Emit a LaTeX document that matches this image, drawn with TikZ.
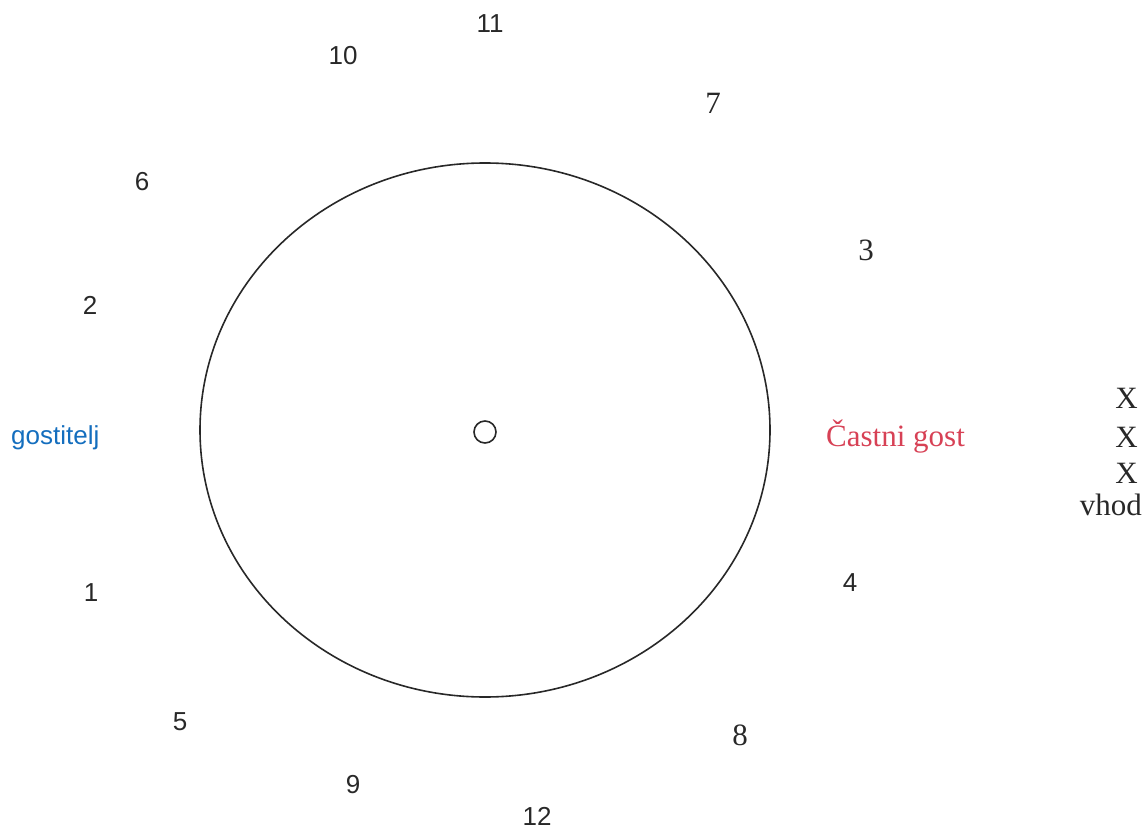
\documentclass[tikz,border=0pt]{standalone}
\usepackage{fontspec}
\setmainfont{Liberation Serif}
\setsansfont{Liberation Sans}
\definecolor{hostblue}{RGB}{20,110,190}
\definecolor{guestred}{RGB}{215,65,85}
\definecolor{ink}{RGB}{40,40,40}
\begin{document}
\begin{tikzpicture}[x=1pt,y=-1pt,
  sanslbl/.style={font=\sffamily\fontsize{26}{30}\selectfont, text=ink, inner sep=0pt},
  seriflbl/.style={font=\rmfamily\fontsize{31}{36}\selectfont, text=ink, inner sep=0pt},
  tableline/.style={draw=ink, line width=1.6pt}]
\useasboundingbox (0,0) rectangle (1148,832);
\draw[tableline] (485,430) ellipse [x radius=285, y radius=267];
\node[draw=ink, line width=1.6pt, circle, minimum size=22pt, inner sep=0pt] (c) at (485,432) {};
\node[sanslbl] (n11) at (490,24) {11};
\node[sanslbl] (n10) at (343,56) {10};
\node[seriflbl] (n7) at (713,103) {7};
\node[sanslbl] (n6) at (142,182) {6};
\node[seriflbl] (n3) at (866,250) {3};
\node[sanslbl] (n2) at (90,305) {2};
\node[sanslbl, text=hostblue, anchor=west] (host) at (11,438) {gostitelj};
\node[seriflbl, text=guestred, anchor=west] (guest) at (826,437) {Častni gost};
\node[seriflbl, anchor=east] (x1) at (1138,398) {X};
\node[seriflbl, anchor=east] (x2) at (1138,437) {X};
\node[seriflbl, anchor=east] (x3) at (1138,473) {X};
\node[seriflbl, anchor=east] (vhod) at (1142,505) {vhod};
\node[sanslbl] (n1) at (91,593) {1};
\node[sanslbl] (n4) at (850,583) {4};
\node[sanslbl] (n5) at (180,722) {5};
\node[seriflbl] (n8) at (740,735) {8};
\node[sanslbl] (n9) at (353,785) {9};
\node[sanslbl] (n12) at (537,816) {12};
\end{tikzpicture}
\end{document}
